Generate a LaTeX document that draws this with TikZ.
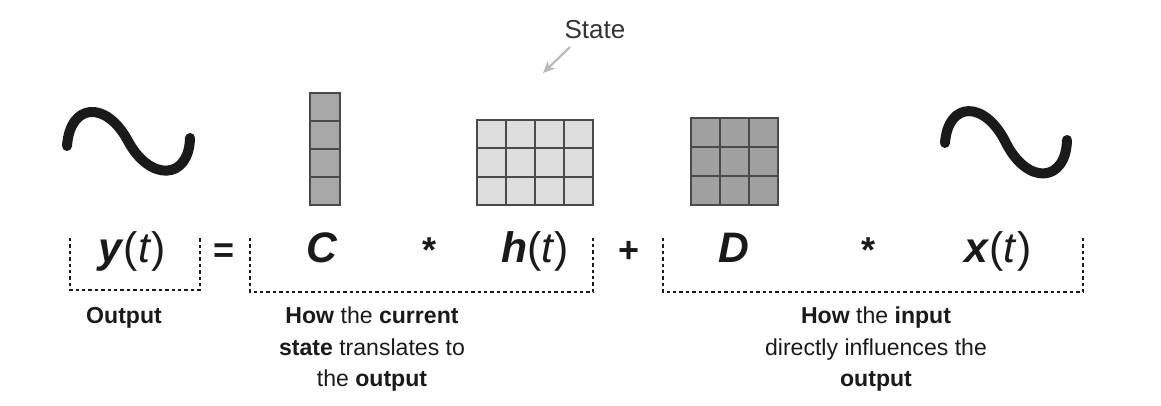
\documentclass[tikz,border=0pt]{standalone}
\usepackage{fontspec}
\setmainfont{Liberation Sans}
\usetikzlibrary{arrows.meta}
\definecolor{cellA}{HTML}{A8A8A8}
\definecolor{cellB}{HTML}{DDDDDD}
\definecolor{cellC}{HTML}{A0A0A0}
\definecolor{gridline}{HTML}{4A4A4A}
\definecolor{ink}{HTML}{1A1A1A}
\definecolor{arrowgray}{HTML}{B8B8B8}
\tikzset{
  wave/.style={line width=7.5pt, line cap=round, ink},
  eq/.style={anchor=base, inner sep=0pt, font=\fontsize{32}{36}\selectfont, ink},
  op/.style={anchor=base, inner sep=0pt, font=\fontsize{27}{30}\selectfont\bfseries, ink},
  brace/.style={draw=ink, line width=1.6pt, dash pattern=on 2.6pt off 2.2pt},
  lbl/.style={anchor=north, inner sep=0pt, align=center, font=\fontsize{17.3}{23.5}\selectfont, ink},
  cellgrid/.style={draw=gridline, line width=1.5pt},
}
\begin{document}
\begin{tikzpicture}[x=0.75pt,y=-0.75pt]
\useasboundingbox (0,0) rectangle (1161,405);
% waves
\draw[wave] (67,146) .. controls (70,103) and (106,100) .. (128,141) .. controls (150,182) and (189,180) .. (190,138);
\draw[wave] (945,143) .. controls (948,101) and (985,100) .. (1006,143) .. controls (1028,186) and (1066,182) .. (1067,140);
% C column vector
\node[draw=none, fill=cellA, minimum width=30*0.75pt, minimum height=112*0.75pt, inner sep=0pt, anchor=north west] (Cvec) at (310,93) {};
\draw[cellgrid] (310,93) rectangle (340,205);
\foreach \yy in {121,149,177} \draw[cellgrid] (310,\yy) -- (340,\yy);
% h state matrix
\node[fill=cellB, minimum width=116*0.75pt, minimum height=85*0.75pt, inner sep=0pt, anchor=north west] (Hmat) at (477,120) {};
\draw[cellgrid] (477,120) rectangle (593,205);
\foreach \xx in {506,535,564} \draw[cellgrid] (\xx,120) -- (\xx,205);
\foreach \yy in {148.3,176.7} \draw[cellgrid] (477,\yy) -- (593,\yy);
% D matrix
\node[fill=cellC, minimum width=87*0.75pt, minimum height=87*0.75pt, inner sep=0pt, anchor=north west] (Dmat) at (691,118) {};
\draw[cellgrid] (691,118) rectangle (778,205);
\foreach \xx in {720,749} \draw[cellgrid] (\xx,118) -- (\xx,205);
\foreach \yy in {147,176} \draw[cellgrid] (691,\yy) -- (778,\yy);
% state label and arrow
\node[inner sep=0pt, font=\fontsize{19.5}{22}\selectfont, text=black!80] (state) at (595,30) {State};
\coordinate (sa) at (570,47);
\coordinate (sb) at (543,73);
\draw[arrowgray, line width=1.6pt, -{Stealth[length=9pt,width=8pt]}] (sa) -- (sb);
% equation
\node[eq] (yt) at (132,262) {\textbf{\textit{y}}(\textit{t})};
\node[op] (eqs) at (224,262) {=};
\node[eq] (C) at (322,262) {\textbf{\textit{C}}};
\node[op] (st1) at (430,262) {*};
\node[eq] (ht) at (535,262) {\textbf{\textit{h}}(\textit{t})};
\node[op] (plus) at (629,262) {+};
\node[eq] (D) at (734,262) {\textbf{\textit{D}}};
\node[op] (st2) at (868,262) {*};
\node[eq] (xt) at (998,262) {\textbf{\textit{x}}(\textit{t})};
% brackets
\draw[brace] (70,238) -- (70,290) -- (200,290) -- (200,238);
\draw[brace] (250,238) -- (250,292) -- (593,292) -- (593,238);
\draw[brace] (663,238) -- (663,292) -- (1083,292) -- (1083,238);
% labels
\node[lbl] (l1) at (124,307) {\textbf{Output}};
\node[lbl] (l2) at (372,307) {\textbf{How} the \textbf{current}\\\textbf{state} translates to\\the \textbf{output}};
\node[lbl] (l3) at (876,307) {\textbf{How} the \textbf{input}\\directly influences the\\\textbf{output}};
\end{tikzpicture}
\end{document}
